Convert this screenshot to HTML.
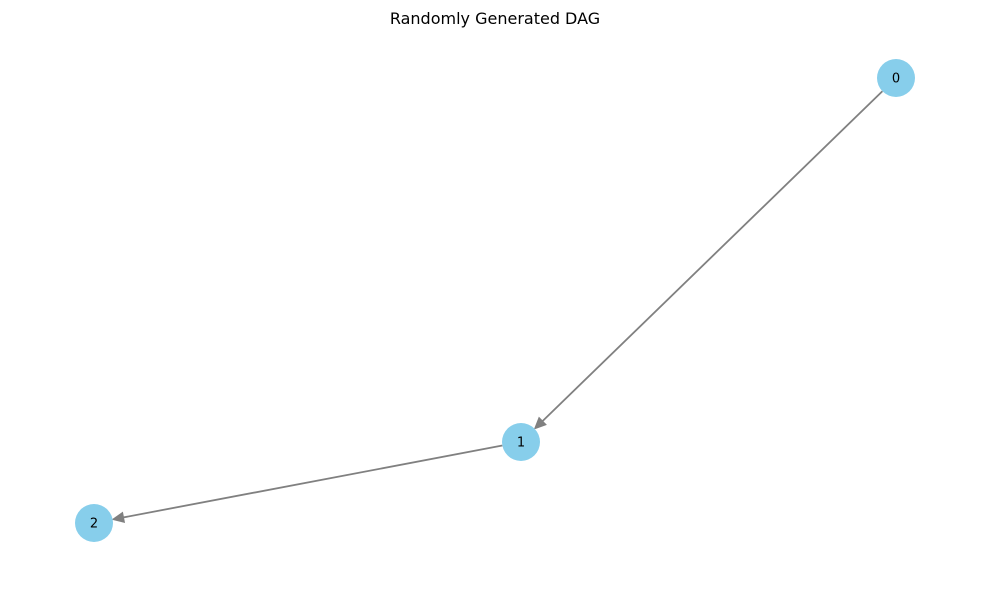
<!DOCTYPE html>
<html><head><meta charset="utf-8"><style>
body{margin:0;background:#fff;}
svg{display:block;font-family:"DejaVu Sans","Liberation Sans",sans-serif;}
</style></head><body>
<svg id="chart" width="989" height="590" viewBox="0 0 989 590">
<text x="495" y="24" text-anchor="middle" font-size="16" fill="#000">Randomly Generated DAG</text>
<g id="edges"></g>
<g id="nodes"></g>
</svg>
<script>
const nodeIds = ["0","1","2"];
const nodeX = [896, 521, 94];
const nodeY = [78, 442, 523];
const edgeFrom = [0, 1];
const edgeTo = [1, 2];
const NS="http://www.w3.org/2000/svg";
const R=19;
const eg=document.getElementById('edges'), ng=document.getElementById('nodes');
for(let i=0;i<edgeFrom.length;i++){
  const a=edgeFrom[i], b=edgeTo[i];
  const x1=nodeX[a],y1=nodeY[a],x2=nodeX[b],y2=nodeY[b];
  const dx=x2-x1,dy=y2-y1,L=Math.hypot(dx,dy),ux=dx/L,uy=dy/L;
  const sx=x1+ux*R, sy=y1+uy*R, tx=x2-ux*R, ty=y2-uy*R;
  const hl=11, hw=5;
  const bx=tx-ux*hl, by=ty-uy*hl;
  const line=document.createElementNS(NS,'line');
  line.setAttribute('x1',sx);line.setAttribute('y1',sy);line.setAttribute('x2',bx);line.setAttribute('y2',by);
  line.setAttribute('stroke','#808080');line.setAttribute('stroke-width','1.8');
  
  
  eg.appendChild(line);
  const head=document.createElementNS(NS,'polygon');
  head.setAttribute('points',`${tx},${ty} ${bx-uy*hw},${by+ux*hw} ${bx+uy*hw},${by-ux*hw}`);
  head.setAttribute('fill','#808080');
  head.setAttribute('stroke','#808080');
  head.setAttribute('stroke-width','1');
  
  
  eg.appendChild(head);
}
for(let i=0;i<nodeIds.length;i++){
  const c=document.createElementNS(NS,'circle');
  c.setAttribute('cx',nodeX[i]);c.setAttribute('cy',nodeY[i]);c.setAttribute('r',R);c.setAttribute('fill','#87ceeb');
  
  
  ng.appendChild(c);
  const t=document.createElementNS(NS,'text');
  t.setAttribute('x',nodeX[i]);t.setAttribute('y',nodeY[i]+4.5);t.setAttribute('text-anchor','middle');t.setAttribute('font-size','13');
  t.textContent=nodeIds[i];
  
  
  ng.appendChild(t);
}
</script>
</body></html>
